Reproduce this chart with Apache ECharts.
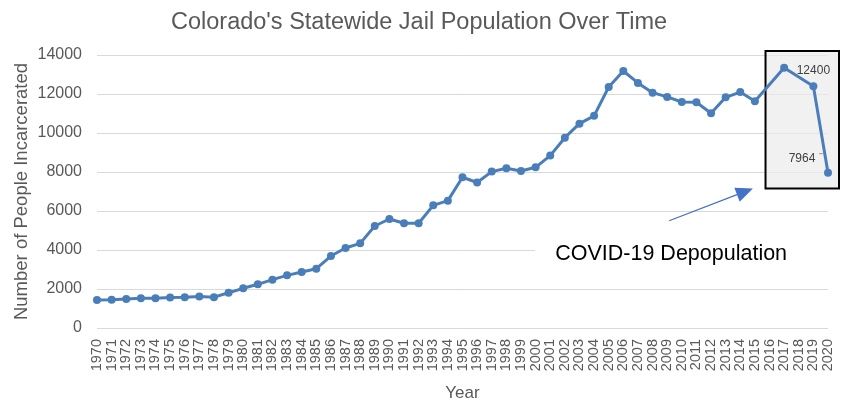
<!DOCTYPE html>
<html><head><meta charset="utf-8">
<script src="https://cdn.jsdelivr.net/npm/echarts@6/dist/echarts.min.js"></script>
<style>html,body{margin:0;padding:0;background:#fff}#c{width:848px;height:400px}</style>
</head><body><div id="c"></div>
<script>
const years = ['1970','1971','1972','1973','1974','1975','1976','1977','1978','1979','1980','1981','1982','1983','1984','1985','1986','1987','1988','1989','1990','1991','1992','1993','1994','1995','1996','1997','1998','1999','2000','2001','2002','2003','2004','2005','2006','2007','2008','2009','2010','2011','2012','2013','2014','2015','2016','2017','2018','2019','2020'];
// 2016 and 2018 have no marker in the reference (gaps bridged by the line)
const population = [1440,1450,1490,1520,1530,1560,1575,1610,1580,1810,2035,2240,2480,2700,2870,3040,3690,4100,4340,5230,5590,5370,5370,6290,6530,7730,7460,8020,8190,8050,8240,8840,9760,10480,10880,12360,13180,12570,12070,11850,11590,11580,11010,11830,12100,11630,null,13350,null,12400,7964];
const yTicks = [0,2000,4000,6000,8000,10000,12000,14000];
const annotationText = 'COVID-19 Depopulation';

const gray = '#595959';
const blue = '#4a7ebb';
const chart = echarts.init(document.getElementById('c'));
const seriesData = population.map((v,i)=>{
  const y = years[i];
  if (y === '2019') return {value:v, label:{show:true, position:'top', distance:6, color:'#404040', fontSize:12, fontFamily:'Liberation Sans'}};
  if (y === '2020') return {value:v, label:{show:true, position:'top', offset:[-26,1], color:'#404040', fontSize:12, fontFamily:'Liberation Sans'}};
  return v;
});
chart.setOption({
  animation:false,
  title:{text:"Colorado's Statewide Jail Population Over Time", left:166, top:6,
    textStyle:{fontFamily:'Liberation Sans', fontSize:23.5, fontWeight:'normal', color:gray}},
  grid:{left:97, right:20, top:55, bottom:72, containLabel:false, outerBoundsMode:'none'},
  xAxis:{type:'category', data:years, boundaryGap:false,
    name:'Year', nameLocation:'middle', nameGap:57,
    nameTextStyle:{fontFamily:'Liberation Sans', fontSize:17, color:gray},
    axisLine:{show:false}, axisTick:{show:false},
    axisLabel:{rotate:90, interval:0, fontFamily:'Liberation Sans', fontSize:14.5, color:gray, margin:11}},
  yAxis:{type:'value', min:yTicks[0], max:yTicks[yTicks.length-1], interval:2000,
    name:'Number of People Incarcerated', nameLocation:'middle', nameGap:66, nameMoveOverlap:false,
    nameTextStyle:{fontFamily:'Liberation Sans', fontSize:18.5, color:gray},
    axisLine:{show:false}, axisTick:{show:false},
    axisLabel:{fontFamily:'Liberation Sans', fontSize:16, color:gray, margin:15, formatter:(v)=>String(v)},
    splitLine:{lineStyle:{color:'#d9d9d9', width:1}}},
  series:[{type:'line', data:seriesData, z:5, color:blue, connectNulls:true,
    lineStyle:{width:3, color:blue}, symbol:'circle', symbolSize:8,
    itemStyle:{color:blue}}]
});
// annotations positioned via the chart's scales
const p = (x,y)=>chart.convertToPixel({gridIndex:0},[x,y]);
const boxTL = p('2016', 14200), boxBR = p('2020', 7150);
const l = boxTL[0]-4, t = boxTL[1], r = boxBR[0]+11, b = boxBR[1];
const aFrom = p('2009', 5500), aTo = p('2015', 7150);
const lbl = p('2020', 7964);
const txtX = p('2001',0)[0]+5, txtY = p('2001',3800)[1];
const x1=aFrom[0]+2, y1=aFrom[1], x2=aTo[0]-2, y2=aTo[1];
const ang=Math.atan2(y2-y1,x2-x1), L=17, W=7.5;
const bx=x2-L*Math.cos(ang), by=y2-L*Math.sin(ang);
chart.setOption({graphic:[
  {type:'rect', z:1, shape:{x:txtX-20, y:txtY-17, width:p('2020',0)[0]-txtX+21, height:34}, style:{fill:'#fff'}},
  {type:'rect', z:1, shape:{x:l, y:t, width:r-l, height:b-t}, style:{fill:'rgba(235,235,235,0.7)', stroke:'#000', lineWidth:2}},
  {type:'line', z:10, shape:{x1:lbl[0]-9, y1:lbl[1]-19, x2:lbl[0]-4, y2:lbl[1]-19}, style:{stroke:'#999', lineWidth:1}},
  {type:'line', z:10, shape:{x1:x1, y1:y1, x2:bx, y2:by}, style:{stroke:'#4472c4', lineWidth:1.3}},
  {type:'polygon', z:10, shape:{points:[[x2,y2],[bx+W*Math.sin(ang),by-W*Math.cos(ang)],[bx-W*Math.sin(ang),by+W*Math.cos(ang)]]}, style:{fill:'#4472c4'}},
  {type:'text', z:10, x:txtX, y:txtY, style:{text:annotationText, fontFamily:'Liberation Sans', fontSize:21.5, fill:'#000', textAlign:'left', textVerticalAlign:'middle'}}
]});
</script></body></html>
